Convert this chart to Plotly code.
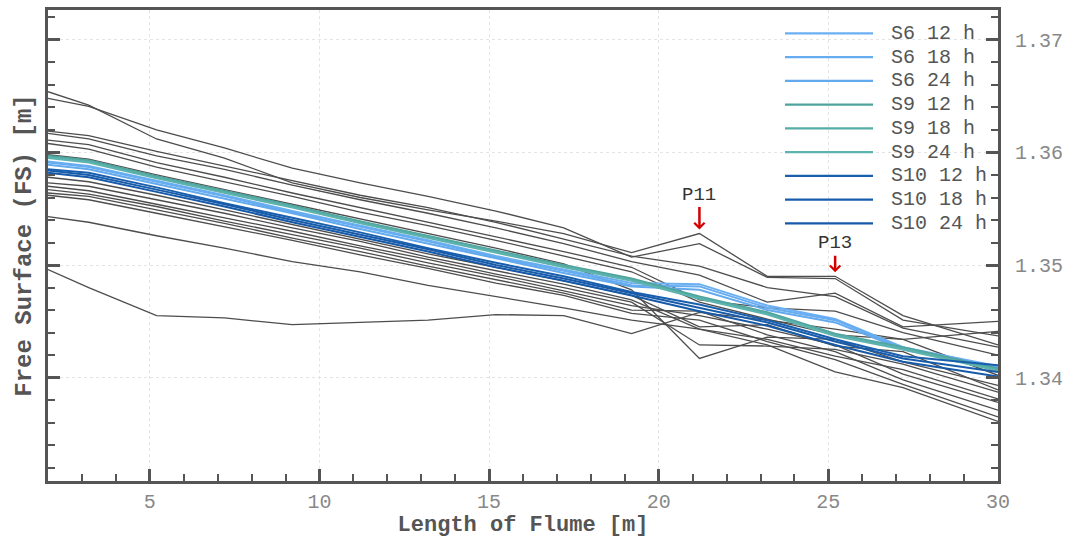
import plotly.graph_objects as go

# ---------------- data ----------------
x_pos = [2, 3.2, 5.2, 7.2, 9.2, 11.2, 13.2, 15.2, 17.2, 19.2, 21.2, 23.2, 25.2, 27.2, 30]

# measured free surface runs (grey)
run_01 = [1.3654, 1.3642, 1.3612, 1.3595, 1.3573, 1.3560, 1.3549, 1.3539, 1.3528, 1.3511, 1.3528, 1.3490, 1.3490, 1.3455, 1.3429]
run_02 = [1.3648, 1.3641, 1.3620, 1.3604, 1.3586, 1.3573, 1.3561, 1.3548, 1.3533, 1.3507, 1.3519, 1.3489, 1.3488, 1.3451, 1.3437]
run_03 = [1.3619, 1.3615, 1.3601, 1.3588, 1.3575, 1.3562, 1.3551, 1.3538, 1.3523, 1.3508, 1.3499, 1.3480, 1.3472, 1.3444, 1.3427]
run_04 = [1.3617, 1.3612, 1.3597, 1.3585, 1.3571, 1.3558, 1.3546, 1.3533, 1.3519, 1.3503, 1.3491, 1.3467, 1.3475, 1.3445, 1.3450]
run_05 = [1.3611, 1.3607, 1.3591, 1.3578, 1.3564, 1.3551, 1.3538, 1.3525, 1.3512, 1.3498, 1.3469, 1.3462, 1.3459, 1.3440, 1.3420]
run_06 = [1.3608, 1.3603, 1.3587, 1.3574, 1.3561, 1.3547, 1.3535, 1.3522, 1.3508, 1.3494, 1.3467, 1.3452, 1.3438, 1.3434, 1.3441]
run_07 = [1.3598, 1.3594, 1.3580, 1.3567, 1.3554, 1.3541, 1.3528, 1.3515, 1.3501, 1.3478, 1.3417, 1.3436, 1.3434, 1.3414, 1.3393]
run_08 = [1.3578, 1.3574, 1.3562, 1.3549, 1.3536, 1.3523, 1.3510, 1.3498, 1.3486, 1.3473, 1.3445, 1.3447, 1.3428, 1.3423, 1.3389]
run_09 = [1.3573, 1.3570, 1.3558, 1.3546, 1.3533, 1.3521, 1.3507, 1.3495, 1.3483, 1.3469, 1.3443, 1.3434, 1.3419, 1.3407, 1.3381]
run_10 = [1.3570, 1.3566, 1.3554, 1.3542, 1.3530, 1.3517, 1.3505, 1.3492, 1.3480, 1.3467, 1.3429, 1.3428, 1.3425, 1.3412, 1.3387]
run_11 = [1.3567, 1.3563, 1.3552, 1.3539, 1.3527, 1.3515, 1.3502, 1.3490, 1.3477, 1.3464, 1.3455, 1.3443, 1.3429, 1.3403, 1.3378]
run_12 = [1.3564, 1.3561, 1.3549, 1.3537, 1.3524, 1.3512, 1.3499, 1.3487, 1.3475, 1.3460, 1.3459, 1.3438, 1.3423, 1.3398, 1.3371]
run_13 = [1.3562, 1.3558, 1.3546, 1.3534, 1.3522, 1.3509, 1.3497, 1.3484, 1.3473, 1.3457, 1.3451, 1.3432, 1.3416, 1.3394, 1.3365]
run_14 = [1.3543, 1.3538, 1.3526, 1.3515, 1.3503, 1.3494, 1.3482, 1.3472, 1.3462, 1.3451, 1.3443, 1.3429, 1.3405, 1.3391, 1.3361]
run_15 = [1.3496, 1.3480, 1.3455, 1.3453, 1.3447, 1.3449, 1.3451, 1.3456, 1.3455, 1.3439, 1.3458, 1.3451, 1.3443, 1.3434, 1.3402]

# simulated series
s6_12h = [1.3592, 1.3588, 1.3575, 1.3562, 1.3548, 1.3535, 1.3522, 1.3508, 1.3496, 1.3484, 1.3483, 1.3464, 1.3452, 1.3427, 1.3410]
s6_18h = [1.3591, 1.3587, 1.3574, 1.3561, 1.3547, 1.3534, 1.3521, 1.3507, 1.3495, 1.3482, 1.3481, 1.3462, 1.3451, 1.3426, 1.3409]
s6_24h = [1.3589, 1.3585, 1.3572, 1.3559, 1.3546, 1.3532, 1.3519, 1.3506, 1.3493, 1.3481, 1.3478, 1.3460, 1.3449, 1.3425, 1.3408]
s9_12h = [1.3597, 1.3593, 1.3579, 1.3566, 1.3553, 1.3539, 1.3526, 1.3513, 1.3500, 1.3488, 1.3472, 1.3458, 1.3439, 1.3427, 1.3408]
s9_18h = [1.3596, 1.3592, 1.3578, 1.3565, 1.3552, 1.3538, 1.3525, 1.3512, 1.3499, 1.3487, 1.3471, 1.3457, 1.3438, 1.3426, 1.3407]
s9_24h = [1.3595, 1.3591, 1.3577, 1.3564, 1.3551, 1.3537, 1.3524, 1.3511, 1.3498, 1.3486, 1.3470, 1.3456, 1.3437, 1.3425, 1.3406]
s10_12h = [1.3585, 1.3582, 1.3569, 1.3555, 1.3542, 1.3529, 1.3515, 1.3502, 1.3490, 1.3476, 1.3465, 1.3451, 1.3434, 1.3419, 1.3411]
s10_18h = [1.3584, 1.3580, 1.3567, 1.3554, 1.3540, 1.3527, 1.3514, 1.3500, 1.3488, 1.3475, 1.3462, 1.3449, 1.3432, 1.3417, 1.3405]
s10_24h = [1.3582, 1.3578, 1.3565, 1.3552, 1.3538, 1.3525, 1.3512, 1.3498, 1.3486, 1.3473, 1.3459, 1.3446, 1.3429, 1.3414, 1.3401]

series_names = ["S6 12 h", "S6 18 h", "S6 24 h", "S9 12 h", "S9 18 h", "S9 24 h",
                "S10 12 h", "S10 18 h", "S10 24 h"]
series_colors = ["#6aaff2", "#66acf0", "#62a9ee", "#4ea39c", "#56aca6", "#5db3ad",
                 "#1a5fae", "#175cab", "#1559a8"]

probe_labels = ["P11", "P13"]
probe_x = [21.2, 25.2]
probe_y = [1.3528, 1.3490]

y_range = [1.33081, 1.37266]
x_range = [2, 30]

# ---------------- figure ----------------
FONT = "Courier New, Liberation Mono, monospace"
AX = "#555555"

grey_runs = [run_01, run_02, run_03, run_04, run_05, run_06, run_07, run_08,
             run_09, run_10, run_11, run_12, run_13, run_14, run_15]
series_vals = [s6_12h, s6_18h, s6_24h, s9_12h, s9_18h, s9_24h, s10_12h, s10_18h, s10_24h]

fig = go.Figure()
for i, r in enumerate(grey_runs):
    fig.add_trace(go.Scatter(x=x_pos, y=r, mode="lines", name=f"run {i+1}",
                             line=dict(color="#4d4d4d", width=1.3), showlegend=False))
for name, col, vals in zip(series_names, series_colors, series_vals):
    fig.add_trace(go.Scatter(x=x_pos, y=vals, mode="lines", name=name, yaxis="y2",
                             line=dict(color=col, width=2), showlegend=False))

# legend drawn as line samples + labels
L, R, T, B = 48, 998, 10, 481
W, H = R - L, B - T
for i, (name, col) in enumerate(zip(series_names, series_colors)):
    py = 33.3 + 23.75 * i
    yp = (B - py) / H
    fig.add_shape(type="line", xref="paper", yref="paper",
                  x0=(785 - L) / W, x1=(873 - L) / W, y0=yp, y1=yp,
                  line=dict(color=col, width=2.2))
    fig.add_annotation(xref="paper", yref="paper", x=(889 - L) / W, y=yp,
                       xanchor="left", yanchor="middle", text=name, showarrow=False,
                       font=dict(family=FONT, size=20, color="#555555"))

for lab, px_, py_, ay in zip(probe_labels, probe_x, probe_y, [-39, -33]):
    fig.add_annotation(x=px_, y=py_, text=lab, showarrow=True, ax=0, ay=ay,
                       arrowhead=4, arrowsize=0.8, arrowwidth=2.5, arrowcolor="#d40000",
                       standoff=4, font=dict(family=FONT, size=19, color="#333333"))

tickfont = dict(family=FONT, size=20, color="#888888")
fig.update_layout(
    width=1068, height=538,
    margin=dict(l=L, r=1068 - R, t=T, b=538 - B, autoexpand=False),
    paper_bgcolor="white", plot_bgcolor="white",
    showlegend=False,
    xaxis=dict(range=x_range, tick0=0, dtick=5, ticks="inside", ticklen=12, tickwidth=3,
               tickcolor=AX, showline=True, linewidth=3, linecolor=AX, mirror=True,
               showgrid=True, gridcolor="#e4e4e4", griddash="dot", gridwidth=1,
               zeroline=False, tickfont=tickfont, ticklabelstandoff=0, automargin=False,
               minor=dict(dtick=1, ticks="inside", ticklen=7, tickwidth=1.5, tickcolor=AX,
                          showgrid=False),
               title=dict(text="Length of Flume [m]", standoff=12,
                          font=dict(family=FONT, size=22, color=AX, weight="bold"))),
    yaxis=dict(range=y_range, tick0=1.33, dtick=0.01, ticks="inside", ticklen=12, tickwidth=3,
               tickcolor=AX, showline=True, linewidth=3, linecolor=AX,
               showgrid=True, gridcolor="#e4e4e4", griddash="dot", gridwidth=1,
               zeroline=False, showticklabels=False, automargin=False,
               minor=dict(tick0=1.33, dtick=0.002, ticks="inside", ticklen=7, tickwidth=1.5,
                          tickcolor=AX, showgrid=False),
               title=dict(text="Free Surface (FS) [m]", standoff=7,
                          font=dict(family=FONT, size=24, color=AX, weight="bold"))),
    yaxis2=dict(overlaying="y", side="right", matches="y", range=y_range,
                tick0=1.33, dtick=0.01, ticks="inside", ticklen=12, tickwidth=3,
                tickcolor=AX, showline=True, linewidth=3, linecolor=AX, automargin=False,
                showgrid=False, zeroline=False, tickfont=tickfont, ticklabelstandoff=10,
                tickformat=".2f",
                minor=dict(tick0=1.33, dtick=0.002, ticks="inside", ticklen=7, tickwidth=1.5,
                           tickcolor=AX, showgrid=False)),
)

fig.write_html("out.html", config={"displayModeBar": False},
               post_script="document.body.style.margin='0px';")
